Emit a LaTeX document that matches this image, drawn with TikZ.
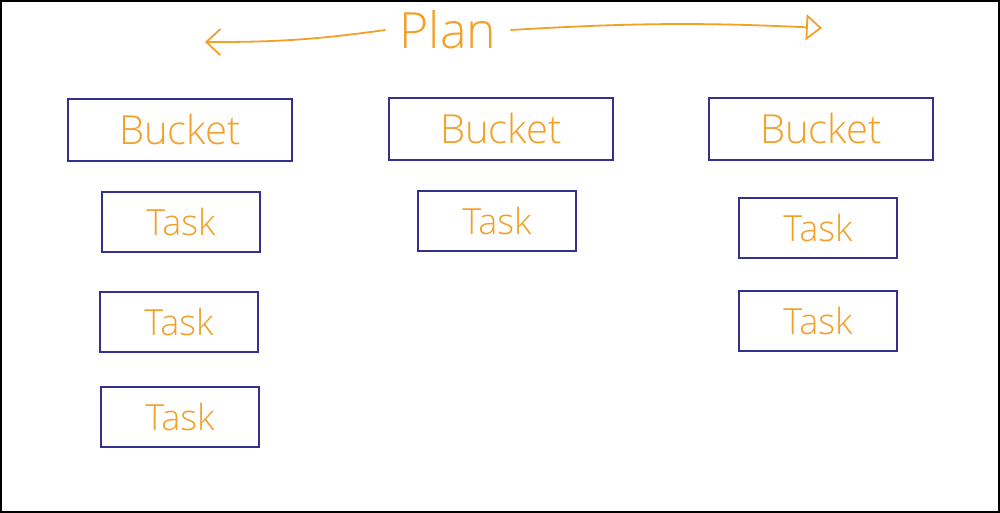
\documentclass[tikz,border=0pt]{standalone}
\usepackage{fontspec}
\setmainfont{Open Sans Light}
\usetikzlibrary{arrows.meta}
\definecolor{pen}{RGB}{242,160,40}
\definecolor{ink}{RGB}{50,50,140}
\begin{document}
\begin{tikzpicture}[x=1pt,y=-1pt,
  box/.style={draw=ink,line width=1.8pt,minimum width=#1,inner sep=0pt},
  bucket/.style={box=224pt,minimum height=62pt,font=\fontsize{40}{40}\selectfont,text=pen},
  task/.style={box=158pt,minimum height=60pt,font=\fontsize{36}{36}\selectfont,text=pen},
  arr/.style={draw=pen,line width=1.8pt}]
\draw[black,line width=2pt,fill=white] (1,1) rectangle (999,512);
\node[font=\fontsize{50}{50}\selectfont,text=pen,inner xsep=14pt] (plan) at (448,30) {Plan};
\coordinate (l) at (205,42);
\coordinate (r) at (822,28);
\draw[arr,-{Straight Barb[length=14pt,width=26pt]}] (plan.west) to[bend left=4] (l);
\draw[arr,-{Triangle[open,length=16pt,width=26pt]}] (plan.east) to[bend left=3] (r);
\node[bucket] (b1) at (180,130) {Bucket};
\node[task] (t11) at (181,222) {Task};
\node[task] (t12) at (179,322) {Task};
\node[task] (t13) at (180,417) {Task};
\node[bucket] (b2) at (501,129) {Bucket};
\node[task] (t21) at (497,221) {Task};
\node[bucket] (b3) at (821,129) {Bucket};
\node[task] (t31) at (818,228) {Task};
\node[task] (t32) at (818,321) {Task};
\end{tikzpicture}
\end{document}
